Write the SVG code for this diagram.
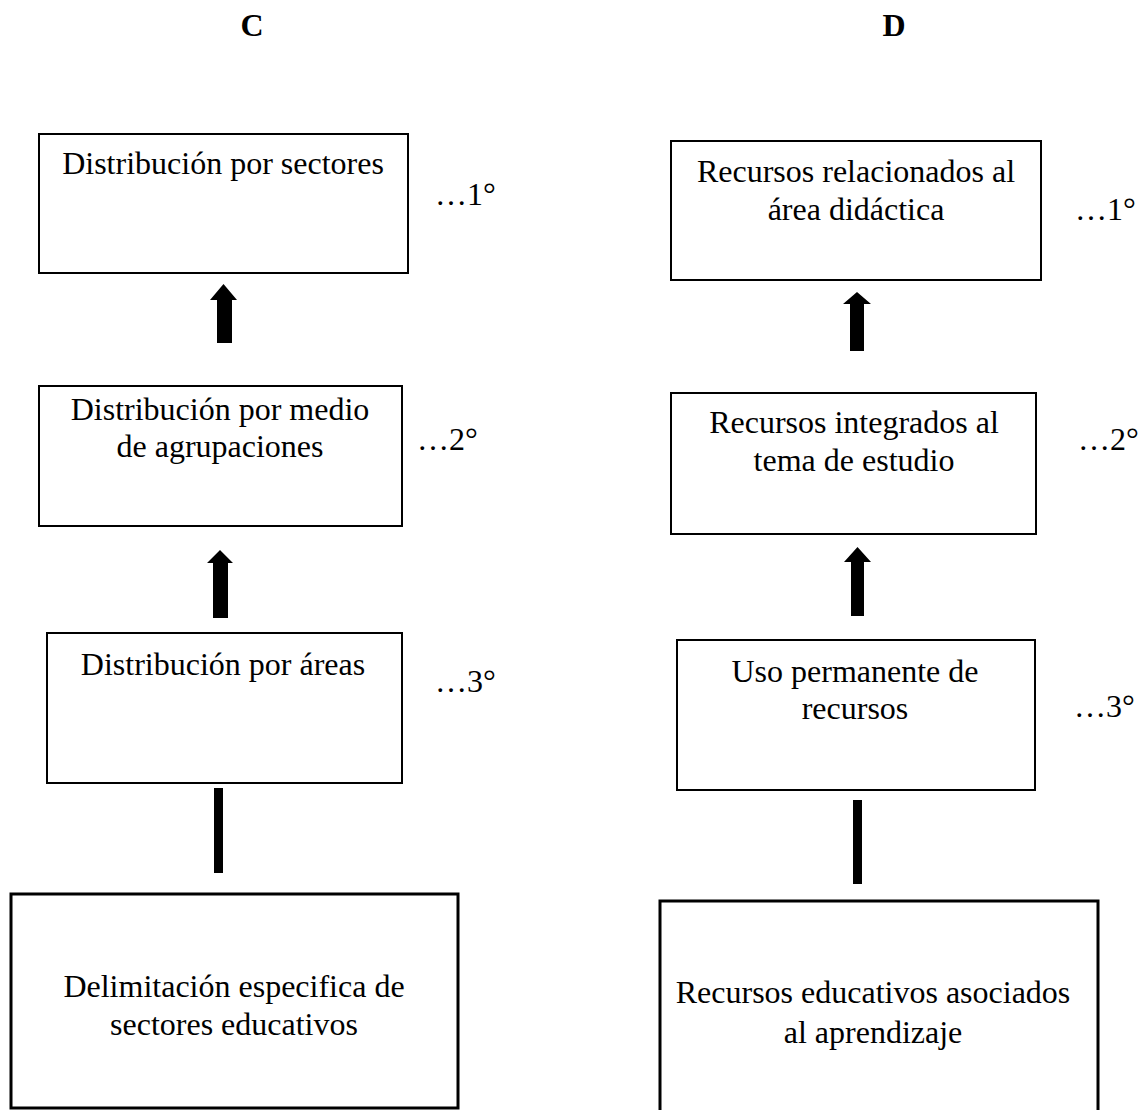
<svg xmlns="http://www.w3.org/2000/svg" width="1148" height="1110" viewBox="0 0 1148 1110">
<style>
text{font-family:"Liberation Serif","Times New Roman",serif;font-size:32px;fill:#000}
.c{text-anchor:middle}
.h{font-weight:bold;text-anchor:middle}
.box{fill:#fff;stroke:#000;stroke-width:2}
.thick{stroke-width:3}
.arr{fill:#000}
</style>
<rect width="1148" height="1110" fill="#fff"/>
<text class="h" x="252" y="36">C</text>
<text class="h" x="894" y="36">D</text>

<g id="connectors">
<polygon class="arr" points="223.5,284 237,300 232,300 232,343 217,343 217,300 210,300"/>
<polygon class="arr" points="220,550 233,563 228,563 228,618 213,618 213,563 207,563"/>
<rect class="arr" x="214" y="788" width="9" height="85"/>
<polygon class="arr" points="857,292 871,304 864,304 864,351 850,351 850,304 843,304"/>
<polygon class="arr" points="857.5,547 871,562 864,562 864,616 851,616 851,562 844,562"/>
<rect class="arr" x="853" y="800" width="9" height="84"/>
</g>

<g id="c1">
<rect class="box" x="39" y="134" width="369" height="139"/>
<text class="c" x="223" y="174">Distribución por sectores</text>
<text x="435" y="205">…1°</text>
</g>
<g id="c2">
<rect class="box" x="39" y="386" width="363" height="140"/>
<text class="c" x="220" y="420">Distribución por medio</text>
<text class="c" x="220" y="457">de agrupaciones</text>
<text x="417" y="450">…2°</text>
</g>
<g id="c3">
<rect class="box" x="47" y="633" width="355" height="150"/>
<text class="c" x="223" y="675">Distribución por áreas</text>
<text x="435" y="692">…3°</text>
</g>
<g id="c4">
<rect class="box thick" x="11" y="894" width="447" height="214"/>
<text class="c" x="234" y="997">Delimitación especifica de</text>
<text class="c" x="234" y="1035">sectores educativos</text>
</g>

<g id="d1">
<rect class="box" x="671" y="141" width="370" height="139"/>
<text class="c" x="856" y="182">Recursos relacionados al</text>
<text class="c" x="856" y="220">área didáctica</text>
<text x="1075" y="220">…1°</text>
</g>
<g id="d2">
<rect class="box" x="671" y="393" width="365" height="141"/>
<text class="c" x="854" y="433">Recursos integrados al</text>
<text class="c" x="854" y="471">tema de estudio</text>
<text x="1078" y="450">…2°</text>
</g>
<g id="d3">
<rect class="box" x="677" y="640" width="358" height="150"/>
<text class="c" x="855" y="682">Uso permanente de</text>
<text class="c" x="855" y="719">recursos</text>
<text x="1074" y="717">…3°</text>
</g>
<g id="d4">
<rect class="box thick" x="660" y="901" width="438" height="215"/>
<text class="c" x="873" y="1003">Recursos educativos asociados</text>
<text class="c" x="873" y="1043">al aprendizaje</text>
</g>
</svg>
